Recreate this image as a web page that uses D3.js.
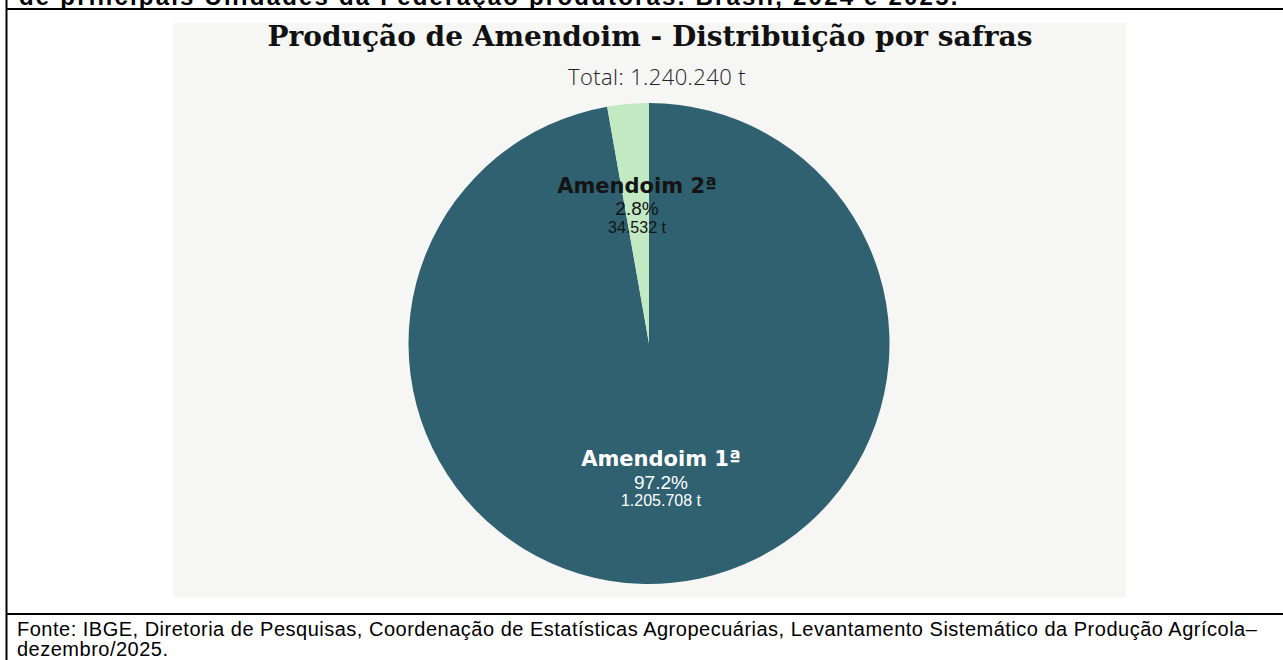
<html>
<head>
<meta charset="utf-8">
<title>Produção de Amendoim</title>
<style>
body{
    margin:0;
    padding:0;
    background-color:white;
}
</style>
</head>
<body>
<svg id="chart" width="1283" height="660"></svg>
<script src="https://d3js.org/d3.v7.min.js"></script>
<script>
// dados
var safras = ["Amendoim 1ª", "Amendoim 2ª"];
var producao = [1205708, 34532];
var cores = ["#2f6171", "#c3e9c3"];
var coresTexto = ["#ffffff", "#141414"];

var tituloTopo = "de principais Unidades da Federação produtoras. Brasil, 2024 e 2025.";
var titulo = "Produção de Amendoim - Distribuição por safras";
var fonte1 = "Fonte: IBGE, Diretoria de Pesquisas, Coordenação de Estatísticas Agropecuárias, Levantamento Sistemático da Produção Agrícola–";
var fonte2 = "dezembro/2025.";

var ptBR = d3.formatLocale({decimal: ",", thousands: ".", grouping: [3], currency: ["R$", ""]});
var fmtT = ptBR.format(",d");
var fmtPct = d3.format(".1%");

var svg = d3.select("#chart");

// moldura
svg.append("line").attr("x1", 6).attr("x2", 1283).attr("y1", 9).attr("y2", 9)
    .attr("stroke", "black").attr("stroke-width", 2);
svg.append("line").attr("x1", 6.5).attr("x2", 6.5).attr("y1", 0).attr("y2", 660)
    .attr("stroke", "black").attr("stroke-width", 2);
svg.append("line").attr("x1", 6).attr("x2", 1283).attr("y1", 614).attr("y2", 614)
    .attr("stroke", "black").attr("stroke-width", 2);

// linha do titulo da tabela, cortada no topo como no original
svg.append("text")
    .attr("x", 19).attr("y", 4.5)
    .attr("font-family", "Liberation Sans, Arial, sans-serif")
    .attr("font-weight", "bold")
    .attr("font-size", 24)
    .attr("letter-spacing", 2.2)
    .text(tituloTopo);

// painel do grafico
svg.append("rect")
    .attr("x", 173).attr("y", 23)
    .attr("width", 953).attr("height", 574)
    .attr("fill", "#f6f7f5");

svg.append("text")
    .attr("x", 650).attr("y", 46)
    .attr("text-anchor", "middle")
    .attr("font-family", "DejaVu Serif, serif")
    .attr("font-weight", "bold")
    .attr("font-size", 28)
    .attr("fill", "#111")
    .text(titulo);

var total = d3.sum(producao);
svg.append("text")
    .attr("x", 657).attr("y", 85)
    .attr("text-anchor", "middle")
    .attr("font-family", "Open Sans, Lato, sans-serif")
    .attr("font-weight", 300)
    .attr("font-size", 22)
    .attr("letter-spacing", 0.4)
    .attr("fill", "#222")
    .text("Total: " + fmtT(total) + " t");

// pizza
var cx = 649, cy = 343.5, raio = 240.5;
var pie = d3.pie().sort(null).value(function(d) { return d; });
var arcos = pie(producao);
var arc = d3.arc().innerRadius(0).outerRadius(raio);
var arcRotulo = d3.arc().innerRadius(raio * 0.57).outerRadius(raio * 0.57);

var g = svg.append("g").attr("transform", "translate(" + cx + "," + cy + ")");

g.selectAll("path")
    .data(arcos)
    .enter().append("path")
    .attr("d", arc)
    .attr("fill", function(d, i) { return cores[i]; });

var rotulos = g.selectAll("g.rotulo")
    .data(arcos)
    .enter().append("g")
    .attr("class", "rotulo")
    .attr("transform", function(d) { return "translate(" + arcRotulo.centroid(d) + ")"; })
    .attr("text-anchor", "middle")
    .attr("fill", function(d, i) { return coresTexto[i]; });

rotulos.append("text")
    .attr("y", -14)
    .attr("font-family", "DejaVu Sans, sans-serif")
    .attr("font-weight", "bold")
    .attr("font-size", 21)
    .text(function(d, i) { return safras[i]; });

rotulos.append("text")
    .attr("y", 8.5)
    .attr("font-family", "Liberation Sans, Arial, sans-serif")
    .attr("font-size", 19)
    .text(function(d) { return fmtPct(d.value / total); });

rotulos.append("text")
    .attr("y", 26)
    .attr("font-family", "Liberation Sans, Arial, sans-serif")
    .attr("font-size", 16)
    .text(function(d) { return fmtT(d.value) + " t"; });

// fonte
svg.append("text")
    .attr("x", 17).attr("y", 636)
    .attr("font-family", "Liberation Sans, Arial, sans-serif")
    .attr("font-size", 20)
    .attr("letter-spacing", 0.5)
    .text(fonte1);
svg.append("text")
    .attr("x", 17).attr("y", 656)
    .attr("font-family", "Liberation Sans, Arial, sans-serif")
    .attr("font-size", 20)
    .attr("letter-spacing", 0.5)
    .text(fonte2);
</script>
</body>
</html>
